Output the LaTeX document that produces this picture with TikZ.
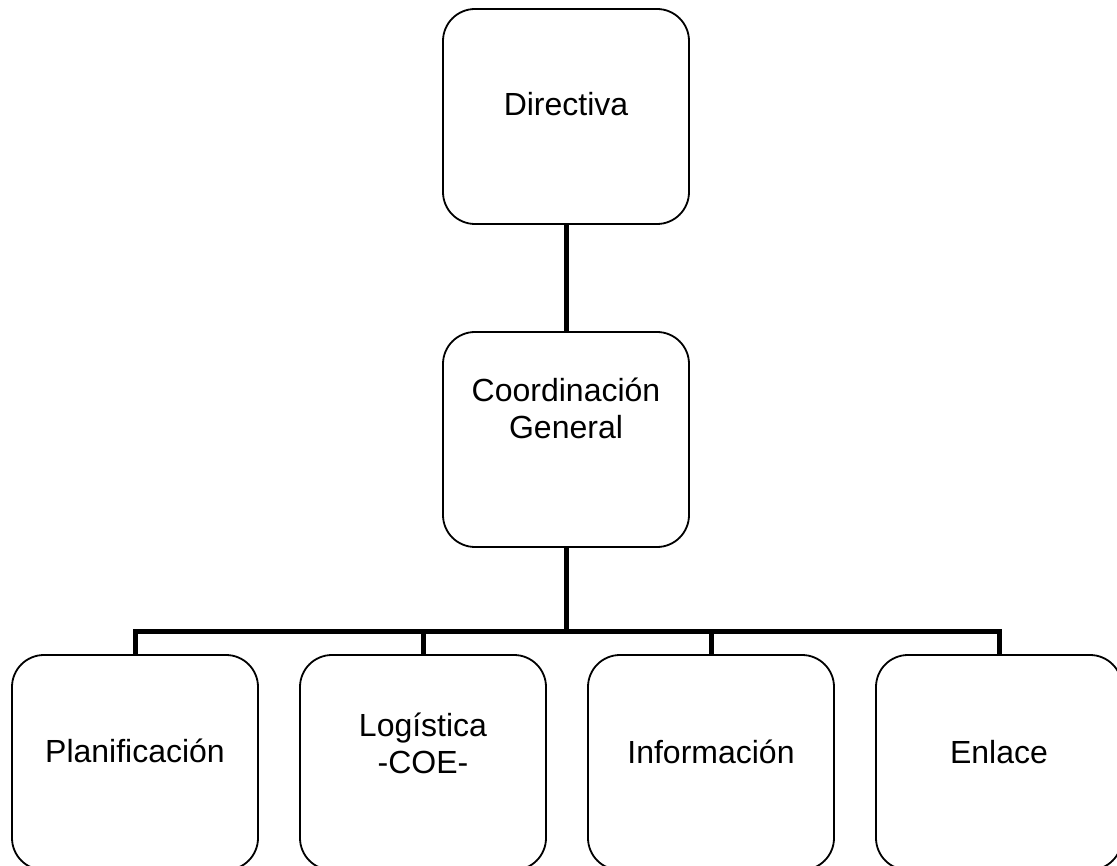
\documentclass[tikz,border=0pt]{standalone}
\usepackage{fontspec}
\setmainfont{Liberation Sans}
\tikzset{
  caja/.style={draw, line width=1.8pt, rounded corners=32pt,
    minimum width=246pt, minimum height=215pt, inner sep=0pt},
  texto/.style={align=center, inner sep=0pt,
    font=\fontsize{32}{37}\selectfont},
  linea/.style={line width=5pt}
}
\begin{document}
\begin{tikzpicture}[x=1pt,y=-1pt]
    \useasboundingbox (0,0) rectangle (1117,866);
    % cajas
    \node[caja] (dir)   at (566,116.5) {};
    \node[caja] (coord) at (566,439.5) {};
    \node[caja] (plan)  at (135,762.5) {};
    \node[caja] (log)   at (423,762.5) {};
    \node[caja] (inf)   at (711,762.5) {};
    \node[caja] (enl)   at (999,762.5) {};
    % textos
    \node[texto,anchor=base] (dirtxt)  at (566,116) {Directiva};
    \node[texto] (coordtxt)            at (566,408) {Coordinación\\General};
    \node[texto,anchor=base] (plantxt) at (135,762) {Planificación};
    \node[texto] (logtxt)              at (423,743) {Logística\\-COE-};
    \node[texto,anchor=base] (inftxt)  at (711,763) {Información};
    \node[texto,anchor=base] (enltxt)  at (999,763) {Enlace};
    % lineas
    \coordinate (bar) at (566,631);
    \draw[linea] (dir) -- (coord);
    \draw[linea] (coord) -- (bar);
    \draw[linea] (plan.north) |- (bar) -| (enl.north);
    \draw[linea] (log.north) -- (log.north |- bar);
    \draw[linea] (inf.north) -- (inf.north |- bar);
\end{tikzpicture}
\end{document}
